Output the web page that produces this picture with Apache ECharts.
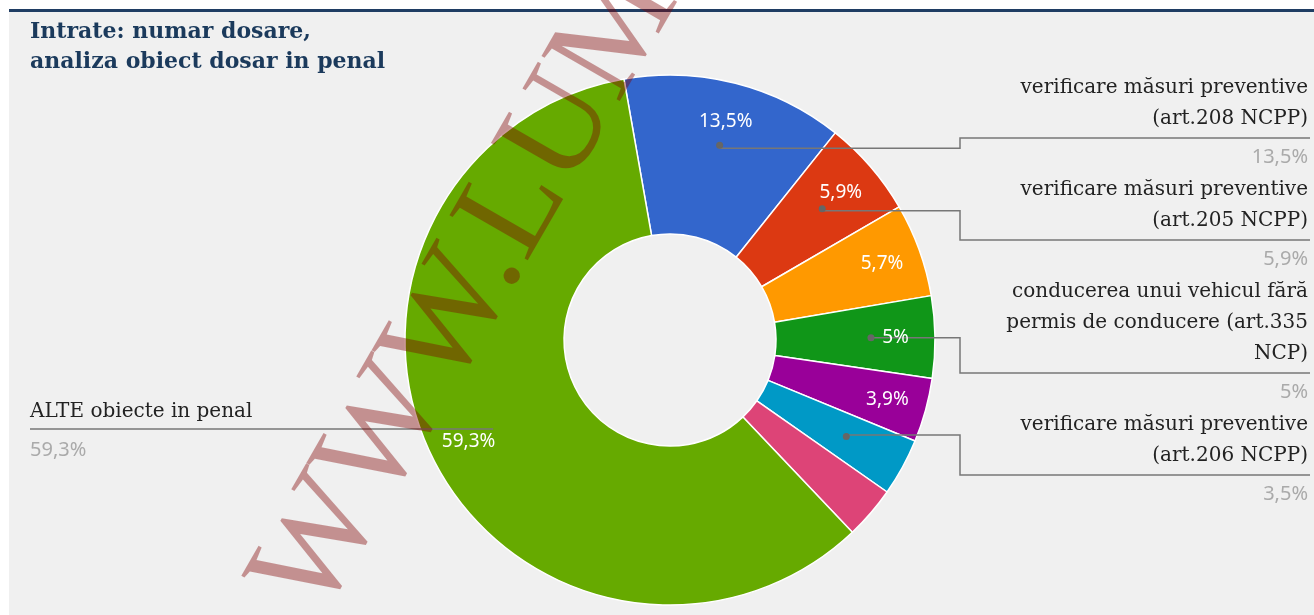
<!DOCTYPE html>
<html>
<head>
<meta charset="utf-8">
<script src="https://cdn.jsdelivr.net/npm/echarts@6/dist/echarts.min.js"></script>
<style>
  html, body { margin: 0; padding: 0; background: #fff; }
  #chart { width: 1314px; height: 615px; }
</style>
</head>
<body>
<div id="chart"></div>
<script>
// slices, clockwise from the top (the unnamed ones carry no outside label)
var categories = [
  'verificare măsuri preventive\n(art.208 NCPP)',
  'verificare măsuri preventive\n(art.205 NCPP)',
  '',
  'conducerea unui vehicul fără\npermis de conducere (art.335\nNCP)',
  '',
  'verificare măsuri preventive\n(art.206 NCPP)',
  '',
  'ALTE obiecte in penal'
];
var values = [13.5, 5.9, 5.7, 5, 3.9, 3.5, 3.2, 59.3];
var innerLabel = [true, true, true, true, true, false, false, true];
var colors = ['#3366cc', '#dc3912', '#ff9900', '#109618', '#990099', '#0099c6', '#dd4477', '#66aa00'];

(function() {
  var chart = echarts.init(document.getElementById('chart'));
  var cx = 670, cy = 340, rIn = 106, rOut = 265, rDot = 198;
  var startAngle = 100;
  var total = values.reduce(function(a, b) { return a + b; }, 0);

  function pct(v) { return String(v).replace('.', ',') + '%'; }

  // mid angle of every slice -> which side its label goes, and the stacked tops on the right
  var mids = [], side = [], tops = [];
  var acc = 0, nextTop = 72;
  values.forEach(function(v, i) {
    var a = (startAngle - 360 * (acc + v / 2) / total) * Math.PI / 180;
    acc += v;
    mids[i] = a;
    side[i] = Math.cos(a) < 0 ? 'left' : 'right';
    if (categories[i] && side[i] === 'right') {
      tops[i] = nextTop;
      nextTop += categories[i].split('\n').length * 31 + 40;
    }
  });

  function outerText(i) {
    var lines = categories[i].split('\n').map(function(l) { return '{n|' + l + '}'; });
    return lines.join('\n') + '\n{p|' + pct(values[i]) + '}';
  }

  var ringData = values.map(function(v, i) {
    return { value: v, name: categories[i], itemStyle: { color: colors[i] } };
  });

  var outerData = values.map(function(v, i) {
    var item = { value: v, name: categories[i] };
    if (!categories[i]) {
      item.label = { show: false };
      item.labelLine = { show: false };
    } else if (side[i] === 'left') {
      item.label = { rich: { n: { align: 'left' }, p: { align: 'left' } } };
    }
    return item;
  });

  var innerData = values.map(function(v, i) {
    return { value: v, name: categories[i], label: { show: innerLabel[i] } };
  });

  var dotData = values.map(function(v, i) {
    return { value: v, name: categories[i], label: { show: !!categories[i] } };
  });

  var ghost = { color: 'transparent', borderWidth: 0 };

  var option = {
    animation: false,
    title: {
      text: 'Intrate: numar dosare,\nanaliza obiect dosar in penal',
      left: 25,
      top: 12,
      textStyle: {
        fontFamily: 'DejaVu Serif',
        fontWeight: 'bold',
        fontSize: 22,
        lineHeight: 30,
        color: '#1b3a5c'
      }
    },
    graphic: [
      { type: 'rect', z: -10, silent: true, shape: { x: 9, y: 12, width: 1305, height: 603 }, style: { fill: '#f0f0f0' } },
      { type: 'rect', z: -10, silent: true, shape: { x: 9, y: 9, width: 1305, height: 3 }, style: { fill: '#1f3d63' } },
      {
        type: 'text', z: 100, silent: true,
        x: 288, y: 603, rotation: 60 * Math.PI / 180,
        style: {
          text: 'WWW.LUMEA',
          font: '138px "Liberation Serif"',
          fill: 'rgba(128,0,0,0.4)',
          align: 'left',
          verticalAlign: 'middle'
        }
      }
    ],
    series: [
      {
        type: 'pie',
        z: 2,
        center: [cx, cy],
        radius: [rIn, rOut],
        startAngle: startAngle,
        clockwise: true,
        emphasis: { disabled: true },
        itemStyle: { borderColor: '#ffffff', borderWidth: 1.5 },
        label: { show: false },
        labelLine: { show: false },
        data: ringData
      },
      {
        // outside labels with their leader lines, above the ring
        type: 'pie',
        z: 4,
        silent: true,
        center: [cx, cy],
        radius: [rIn, rOut],
        startAngle: startAngle,
        clockwise: true,
        avoidLabelOverlap: false,
        emphasis: { disabled: true },
        itemStyle: ghost,
        label: {
          show: true,
          position: 'outside',
          formatter: function(p) { return outerText(p.dataIndex); },
          rich: {
            n: { fontFamily: 'DejaVu Serif', fontSize: 20, color: '#222', lineHeight: 31, align: 'right' },
            p: { fontFamily: 'Noto Sans', fontSize: 20, color: '#aaaaaa', lineHeight: 46, align: 'right' }
          }
        },
        labelLine: { show: true, lineStyle: { color: '#777', width: 1.5 } },
        labelLayout: function(p) {
          var i = p.dataIndex;
          if (!categories[i]) return {};
          var x0 = cx + rDot * Math.cos(mids[i]);
          var y0 = cy - rDot * Math.sin(mids[i]);
          var nLines = categories[i].split('\n').length;
          if (side[i] === 'left') {
            return {
              x: 30, y: y0 - 33, align: 'left', verticalAlign: 'top',
              labelLinePoints: [[x0, y0], [30, y0]]
            };
          }
          var sep = tops[i] + nLines * 31 + 4;
          return {
            x: 1308, y: tops[i], align: 'right', verticalAlign: 'top',
            labelLinePoints: [[x0, y0], [960, y0], [960, sep], [1310, sep]]
          };
        },
        data: outerData
      },
      {
        // percentage inside the ring, near its outer edge
        type: 'pie',
        z: 5,
        silent: true,
        center: [cx, cy],
        radius: [180, rOut],
        startAngle: startAngle,
        clockwise: true,
        emphasis: { disabled: true },
        itemStyle: ghost,
        label: {
          position: 'inside',
          formatter: function(p) { return pct(p.value); },
          fontFamily: 'Noto Sans',
          fontSize: 19,
          color: '#ffffff'
        },
        labelLine: { show: false },
        data: innerData
      },
      {
        // little dot where each leader line starts
        type: 'pie',
        z: 6,
        silent: true,
        center: [cx, cy],
        radius: [rDot - 4, rDot + 4],
        startAngle: startAngle,
        clockwise: true,
        emphasis: { disabled: true },
        itemStyle: ghost,
        label: {
          position: 'inside',
          formatter: '{d|}',
          rich: { d: { width: 7, height: 7, borderRadius: 3.5, backgroundColor: '#666' } }
        },
        labelLine: { show: false },
        data: dotData
      }
    ]
  };
  chart.setOption(option);
})();
</script>
</body>
</html>
